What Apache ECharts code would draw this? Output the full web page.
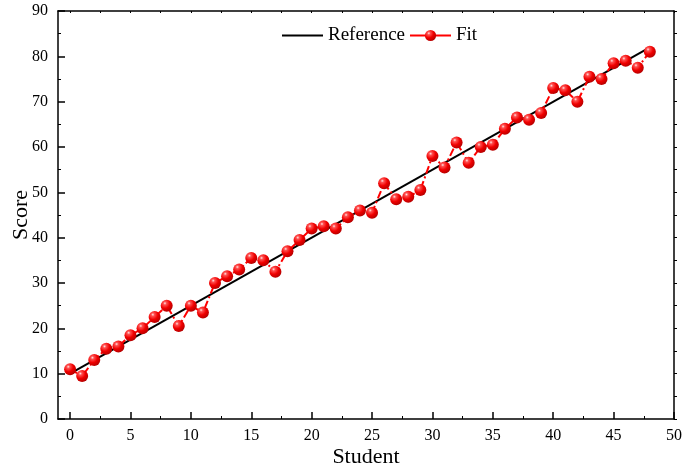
<!DOCTYPE html>
<html>
<head>
<meta charset="utf-8">
<script src="https://cdn.jsdelivr.net/npm/echarts@6/dist/echarts.min.js"></script>
<style>
  html, body { margin: 0; padding: 0; background: #fff; }
  #chart { width: 682px; height: 467px; }
</style>
</head>
<body>
<div id="chart"></div>
<script>
// Student index and fitted scores
var students = [0,1,2,3,4,5,6,7,8,9,10,11,12,13,14,15,16,17,18,19,20,21,22,23,24,
                25,26,27,28,29,30,31,32,33,34,35,36,37,38,39,40,41,42,43,44,45,46,47,48];
var fitScores = [11,9.5,13,15.5,16,18.5,20,22.5,25,20.5,25,23.5,30,31.5,33,35.5,35,32.5,37,39.5,
                 42,42.5,42,44.5,46,45.5,52,48.5,49,50.5,58,55.5,61,56.5,60,60.5,64,66.5,66,67.5,
                 73,72.5,70,75.5,75,78.5,79,77.5,81];
// Reference line endpoints
var refX = [0, 48];
var refY = [10, 82];
// Axis tick labels
var xTicks = [0,5,10,15,20,25,30,35,40,45,50];
var xMinorTicks = [2.5,7.5,12.5,17.5,22.5,27.5,32.5,37.5,42.5,47.5];
var yTicks = [0,10,20,30,40,50,60,70,80,90];

var FONT = '"Liberation Serif", "Times New Roman", serif';

var fitData = students.map(function (s, i) { return [s, fitScores[i]]; });
var refData = refX.map(function (x, i) { return [x, refY[i]]; });

var sphere = new echarts.graphic.RadialGradient(0.35, 0.3, 0.75, [
  { offset: 0, color: '#ffe6e6' },
  { offset: 0.18, color: '#ff5050' },
  { offset: 0.55, color: '#f00000' },
  { offset: 1, color: '#b00000' }
]);

var chart = echarts.init(document.getElementById('chart'), null, { renderer: 'canvas' });

function spine() {
  return { show: true, onZero: false, lineStyle: { color: '#000', width: 1.5 } };
}

chart.setOption({
  animation: false,
  backgroundColor: '#fff',
  grid: { left: 58, right: 8, top: 11, bottom: 48, containLabel: false, outerBoundsMode: 'none' },
  legend: {
    left: 276, top: 21,
    itemWidth: 41, itemHeight: 14, itemGap: 4,
    textStyle: { fontFamily: FONT, fontSize: 19, color: '#000' },
    data: [
      { name: 'Reference', itemStyle: { opacity: 0 } },
      { name: 'Fit', lineStyle: { type: 'solid' } }
    ]
  },
  xAxis: [
    {
      type: 'value', min: -1, max: 50, position: 'bottom',
      name: 'Student', nameLocation: 'middle', nameGap: 27, nameMoveOverlap: false,
      nameTextStyle: { fontFamily: FONT, fontSize: 22, color: '#000' },
      axisLine: spine(),
      axisTick: { show: true, inside: true, length: 7, customValues: xTicks, lineStyle: { color: '#000', width: 1.5 } },
      axisLabel: { show: true, customValues: xTicks, margin: 9, fontFamily: FONT, fontSize: 16, color: '#000' },
      splitLine: { show: false }
    },
    {
      type: 'value', min: -1, max: 50, position: 'bottom',
      axisLine: { show: false, onZero: false },
      axisTick: { show: true, inside: true, length: 3, customValues: xMinorTicks, lineStyle: { color: '#000', width: 1 } },
      axisLabel: { show: false },
      splitLine: { show: false }
    },
    {
      type: 'value', min: -1, max: 50, position: 'top',
      axisLine: spine(),
      axisTick: { show: true, inside: true, length: 2, customValues: xTicks.concat(xMinorTicks), lineStyle: { color: '#000', width: 1 } },
      axisLabel: { show: false },
      splitLine: { show: false }
    }
  ],
  yAxis: [
    {
      type: 'value', min: 0, max: 90, interval: 10, position: 'left',
      name: 'Score', nameLocation: 'middle', nameGap: 26, nameRotate: 90, nameMoveOverlap: false,
      nameTextStyle: { fontFamily: FONT, fontSize: 22, color: '#000' },
      axisLine: spine(),
      axisTick: { show: true, inside: true, length: 7, lineStyle: { color: '#000', width: 1.5 } },
      minorTick: { show: true, splitNumber: 2, length: 3, lineStyle: { color: '#000', width: 1 } },
      axisLabel: { show: true, customValues: yTicks, margin: 10, fontFamily: FONT, fontSize: 16, color: '#000' },
      splitLine: { show: false },
      minorSplitLine: { show: false }
    },
    {
      type: 'value', min: 0, max: 90, interval: 5, position: 'right',
      axisLine: spine(),
      axisTick: { show: true, inside: false, length: 3, lineStyle: { color: '#000', width: 1 } },
      axisLabel: { show: false },
      splitLine: { show: false }
    }
  ],
  series: [
    {
      name: 'Reference', type: 'line', xAxisIndex: 0, yAxisIndex: 0,
      data: refData, symbol: 'none',
      lineStyle: { color: '#000', width: 2 },
      itemStyle: { color: '#000' },
      z: 2
    },
    {
      name: 'Fit', type: 'line', xAxisIndex: 0, yAxisIndex: 0,
      data: fitData, symbol: 'circle', symbolSize: 12,
      lineStyle: { color: '#ff0000', width: 2, type: [8, 3, 2, 3] },
      itemStyle: { color: sphere, borderWidth: 0 },
      z: 3
    }
  ]
});
</script>
</body>
</html>
